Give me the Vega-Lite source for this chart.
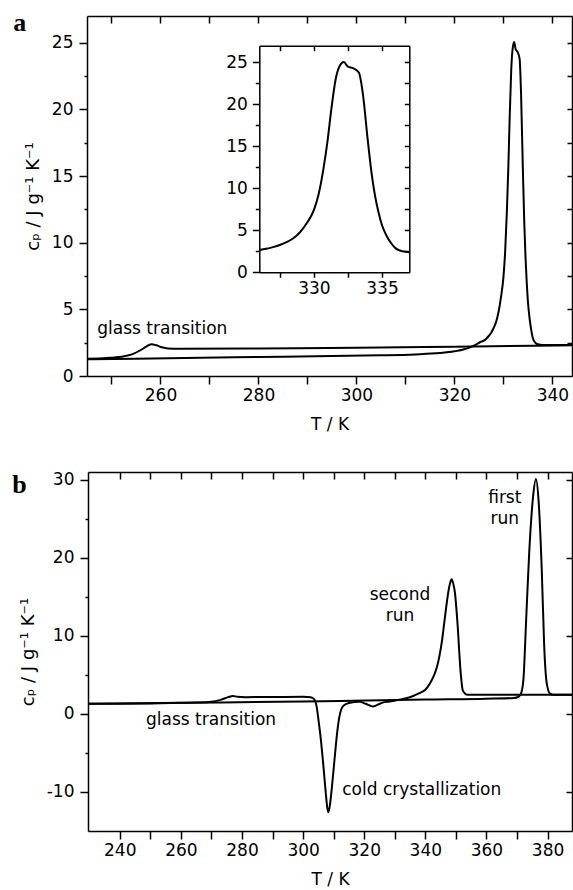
{
  "$schema": "https://vega.github.io/schema/vega-lite/v6.json",
  "width": 486,
  "height": 874,
  "autosize": {"type": "none"},
  "padding": {"left": 87, "top": 16, "right": 0, "bottom": 0},
  "datasets": {
    "curves": [
      {"p":"a","s":"m","T":245,"cp":1.25},{"p":"a","s":"m","T":255,"cp":1.3},{"p":"a","s":"m","T":265,"cp":1.35},{"p":"a","s":"m","T":275,"cp":1.4},{"p":"a","s":"m","T":285,"cp":1.45},{"p":"a","s":"m","T":295,"cp":1.5},{"p":"a","s":"m","T":305,"cp":1.55},{"p":"a","s":"m","T":312,"cp":1.62},{"p":"a","s":"m","T":317,"cp":1.72},{"p":"a","s":"m","T":320,"cp":1.85},{"p":"a","s":"m","T":322,"cp":2.0},{"p":"a","s":"m","T":323.5,"cp":2.2},{"p":"a","s":"m","T":324.5,"cp":2.38},{"p":"a","s":"m","T":325.3,"cp":2.55},{"p":"a","s":"m","T":326,"cp":2.65},{"p":"a","s":"m","T":326.5,"cp":2.8},{"p":"a","s":"m","T":327,"cp":3.0},{"p":"a","s":"m","T":327.5,"cp":3.25},{"p":"a","s":"m","T":328,"cp":3.6},{"p":"a","s":"m","T":328.5,"cp":4.05},{"p":"a","s":"m","T":329,"cp":4.8},{"p":"a","s":"m","T":329.5,"cp":5.9},{"p":"a","s":"m","T":330,"cp":7.4},{"p":"a","s":"m","T":330.35,"cp":9.3},{"p":"a","s":"m","T":330.7,"cp":12.3},{"p":"a","s":"m","T":331,"cp":15.6},{"p":"a","s":"m","T":331.25,"cp":19.0},{"p":"a","s":"m","T":331.6,"cp":23.0},{"p":"a","s":"m","T":331.9,"cp":24.6},{"p":"a","s":"m","T":332.2,"cp":25.05},{"p":"a","s":"m","T":332.5,"cp":24.5},{"p":"a","s":"m","T":332.9,"cp":24.3},{"p":"a","s":"m","T":333.3,"cp":23.8},{"p":"a","s":"m","T":333.6,"cp":21.2},{"p":"a","s":"m","T":333.95,"cp":15.8},{"p":"a","s":"m","T":334.25,"cp":11.6},{"p":"a","s":"m","T":334.5,"cp":9.0},{"p":"a","s":"m","T":334.75,"cp":7.1},{"p":"a","s":"m","T":335,"cp":5.6},{"p":"a","s":"m","T":335.35,"cp":4.3},{"p":"a","s":"m","T":335.7,"cp":3.4},{"p":"a","s":"m","T":336,"cp":2.85},{"p":"a","s":"m","T":336.5,"cp":2.5},{"p":"a","s":"m","T":337,"cp":2.38},{"p":"a","s":"m","T":338,"cp":2.32},{"p":"a","s":"m","T":344,"cp":2.33},
      {"p":"a","s":"g","T":245,"cp":1.3},{"p":"a","s":"g","T":249,"cp":1.35},{"p":"a","s":"g","T":252,"cp":1.45},{"p":"a","s":"g","T":254,"cp":1.6},{"p":"a","s":"g","T":256,"cp":1.95},{"p":"a","s":"g","T":257.3,"cp":2.25},{"p":"a","s":"g","T":258.2,"cp":2.38},{"p":"a","s":"g","T":259.2,"cp":2.3},{"p":"a","s":"g","T":260.3,"cp":2.15},{"p":"a","s":"g","T":261.5,"cp":2.07},{"p":"a","s":"g","T":264,"cp":2.05},{"p":"a","s":"g","T":280,"cp":2.07},{"p":"a","s":"g","T":300,"cp":2.12},{"p":"a","s":"g","T":320,"cp":2.2},{"p":"a","s":"g","T":344,"cp":2.3},
      {"p":"b","s":"f","T":229.6,"cp":1.3},{"p":"b","s":"f","T":260,"cp":1.42},{"p":"b","s":"f","T":300,"cp":1.6},{"p":"b","s":"f","T":320,"cp":1.72},{"p":"b","s":"f","T":340,"cp":1.85},{"p":"b","s":"f","T":360,"cp":1.95},{"p":"b","s":"f","T":369,"cp":2.05},{"p":"b","s":"f","T":370.5,"cp":2.2},{"p":"b","s":"f","T":371.3,"cp":2.6},{"p":"b","s":"f","T":372.1,"cp":4.4},{"p":"b","s":"f","T":373,"cp":12.1},{"p":"b","s":"f","T":374,"cp":20.7},{"p":"b","s":"f","T":375.3,"cp":28.0},{"p":"b","s":"f","T":376.2,"cp":30.1},{"p":"b","s":"f","T":377.1,"cp":27.1},{"p":"b","s":"f","T":378.1,"cp":18.5},{"p":"b","s":"f","T":378.9,"cp":8.7},{"p":"b","s":"f","T":379.7,"cp":4.0},{"p":"b","s":"f","T":380.8,"cp":2.6},{"p":"b","s":"f","T":382,"cp":2.45},{"p":"b","s":"f","T":388,"cp":2.45},
      {"p":"b","s":"s","T":229.6,"cp":1.3},{"p":"b","s":"s","T":250,"cp":1.35},{"p":"b","s":"s","T":265,"cp":1.45},{"p":"b","s":"s","T":270,"cp":1.55},{"p":"b","s":"s","T":273,"cp":1.8},{"p":"b","s":"s","T":275.5,"cp":2.15},{"p":"b","s":"s","T":277,"cp":2.3},{"p":"b","s":"s","T":278.5,"cp":2.2},{"p":"b","s":"s","T":281,"cp":2.15},{"p":"b","s":"s","T":290,"cp":2.17},{"p":"b","s":"s","T":300,"cp":2.2},{"p":"b","s":"s","T":302.5,"cp":2.15},{"p":"b","s":"s","T":303.6,"cp":1.9},{"p":"b","s":"s","T":304.4,"cp":1.0},{"p":"b","s":"s","T":305.1,"cp":-1.0},{"p":"b","s":"s","T":305.9,"cp":-3.6},{"p":"b","s":"s","T":306.6,"cp":-6.5},{"p":"b","s":"s","T":307.3,"cp":-9.6},{"p":"b","s":"s","T":307.9,"cp":-12.0},{"p":"b","s":"s","T":308.3,"cp":-12.6},{"p":"b","s":"s","T":308.8,"cp":-11.6},{"p":"b","s":"s","T":309.4,"cp":-9.5},{"p":"b","s":"s","T":310.0,"cp":-7.0},{"p":"b","s":"s","T":310.6,"cp":-4.5},{"p":"b","s":"s","T":311.2,"cp":-2.2},{"p":"b","s":"s","T":311.8,"cp":-0.5},{"p":"b","s":"s","T":312.5,"cp":0.6},{"p":"b","s":"s","T":313.5,"cp":1.15},{"p":"b","s":"s","T":315,"cp":1.4},{"p":"b","s":"s","T":318.5,"cp":1.55},{"p":"b","s":"s","T":320.5,"cp":1.3},{"p":"b","s":"s","T":322.8,"cp":0.95},{"p":"b","s":"s","T":324.5,"cp":1.2},{"p":"b","s":"s","T":326,"cp":1.45},{"p":"b","s":"s","T":328.3,"cp":1.6},{"p":"b","s":"s","T":333.7,"cp":2.0},{"p":"b","s":"s","T":336,"cp":2.3},{"p":"b","s":"s","T":338.1,"cp":2.66},{"p":"b","s":"s","T":340,"cp":3.1},{"p":"b","s":"s","T":341.5,"cp":3.9},{"p":"b","s":"s","T":342.8,"cp":4.9},{"p":"b","s":"s","T":343.8,"cp":6.0},{"p":"b","s":"s","T":344.7,"cp":7.6},{"p":"b","s":"s","T":345.5,"cp":9.5},{"p":"b","s":"s","T":346.2,"cp":11.7},{"p":"b","s":"s","T":346.9,"cp":13.9},{"p":"b","s":"s","T":347.6,"cp":15.8},{"p":"b","s":"s","T":348.2,"cp":16.9},{"p":"b","s":"s","T":348.6,"cp":17.25},{"p":"b","s":"s","T":349.2,"cp":16.6},{"p":"b","s":"s","T":349.7,"cp":15.5},{"p":"b","s":"s","T":350.2,"cp":13.3},{"p":"b","s":"s","T":350.6,"cp":11.2},{"p":"b","s":"s","T":351,"cp":8.6},{"p":"b","s":"s","T":351.4,"cp":6.1},{"p":"b","s":"s","T":351.8,"cp":4.3},{"p":"b","s":"s","T":352.2,"cp":3.1},{"p":"b","s":"s","T":353,"cp":2.6},{"p":"b","s":"s","T":353.9,"cp":2.45},{"p":"b","s":"s","T":370,"cp":2.45},{"p":"b","s":"s","T":388,"cp":2.45}
    ],
    "notes": [
      {"p":"a","al":"left","text":"glass transition","T":247.1,"cp":3.5},
      {"p":"b","al":"left","text":"glass transition","T":248.6,"cp":-0.8},
      {"p":"b","al":"left","text":"cold crystallization","T":312.8,"cp":-9.8},
      {"p":"b","al":"center","text":"second","T":331.7,"cp":15.3},
      {"p":"b","al":"center","text":"run","T":331.7,"cp":12.5},
      {"p":"b","al":"center","text":"first","T":366,"cp":27.7},
      {"p":"b","al":"center","text":"run","T":366,"cp":25.0}
    ]
  },
  "layer": [
    {
      "data": {"name": "curves"},
      "transform": [{"filter": "datum.p === 'a'"}],
      "mark": {"type": "line", "color": "#000", "strokeWidth": 2, "interpolate": "monotone"},
      "encoding": {
        "x": {"field": "T", "type": "quantitative", "scale": {"domain": [245, 344], "range": [0, 485], "nice": false, "zero": false},
          "axis": {"orient": "bottom", "offset": -514, "values": [250,260,270,280,290,300,310,320,330,340], "labelExpr": "datum.value % 20 === 0 ? toString(datum.value) : ''", "tickSize": 8, "title": "T / K", "titlePadding": 13}},
        "y": {"field": "cp", "type": "quantitative", "scale": {"domain": [0, 27], "range": [360, 0], "nice": false, "zero": false},
          "axis": {"orient": "left", "offset": 0, "values": [0,2.5,5,7.5,10,12.5,15,17.5,20,22.5,25], "labelExpr": "datum.value % 5 === 0 ? toString(datum.value) : ''", "tickSize": {"condition": {"test": "datum.value % 5 === 0", "value": 8}, "value": 3}, "labelPadding": 6, "title": "cₚ / J g⁻¹ K⁻¹", "titleFontSize": 18, "titlePadding": 9}},
        "detail": {"field": "s"}
      }
    },
    {
      "data": {"name": "curves"},
      "transform": [{"filter": "datum.p === 'a'"}],
      "mark": {"type": "point", "opacity": 0},
      "encoding": {
        "x": {"field": "T", "type": "quantitative", "scale": {"domain": [245, 344], "range": [0, 485], "nice": false, "zero": false},
          "axis": {"orient": "top", "offset": 0, "values": [250,260,270,280,290,300,310,320,330,340], "labels": false, "tickSize": -7,
            "title": "a", "titleFont": "Liberation Serif", "titleFontWeight": "bold", "titleFontSize": 26, "titleX": -74.3, "titleY": 14, "titleAlign": "left", "titleBaseline": "alphabetic", "titleAngle": 0}},
        "y": {"field": "cp", "type": "quantitative", "scale": {"domain": [0, 27], "range": [360, 0], "nice": false, "zero": false},
          "axis": {"orient": "right", "offset": -1, "values": [2.5,5,7.5,10,12.5,15,17.5,20,22.5,25], "labels": false, "tickSize": -5, "title": null}}
      }
    },
    {
      "data": {"name": "curves"},
      "transform": [{"filter": "datum.p === 'a' && datum.s === 'm' && datum.T >= 326 && datum.T <= 337"}],
      "mark": {"type": "line", "color": "#000", "strokeWidth": 2, "interpolate": "monotone"},
      "encoding": {
        "x": {"field": "T", "type": "quantitative", "scale": {"domain": [326, 337], "range": [172.3, 322.3], "nice": false, "zero": false},
          "axis": {"orient": "bottom", "offset": -617.7, "values": [327.5,330,332.5,335], "labelExpr": "datum.value % 5 === 0 ? toString(datum.value) : ''", "tickSize": 5, "title": null}},
        "y": {"field": "cp", "type": "quantitative", "scale": {"domain": [0, 27], "range": [256.3, 29.7], "nice": false, "zero": false},
          "axis": {"orient": "left", "offset": -172.3, "values": [0,2.5,5,7.5,10,12.5,15,17.5,20,22.5,25], "labelExpr": "datum.value % 5 === 0 ? toString(datum.value) : ''", "tickSize": {"condition": {"test": "datum.value % 5 === 0", "value": 7}, "value": 4}, "labelPadding": 5, "title": null}}
      }
    },
    {
      "data": {"name": "curves"},
      "transform": [{"filter": "datum.p === 'a' && datum.s === 'm' && datum.T >= 326 && datum.T <= 337"}],
      "mark": {"type": "point", "opacity": 0},
      "encoding": {
        "x": {"field": "T", "type": "quantitative", "scale": {"domain": [326, 337], "range": [172.3, 322.3], "nice": false, "zero": false},
          "axis": {"orient": "top", "offset": -29.7, "values": [327.5,330,332.5,335], "labels": false, "tickSize": -5, "title": null}},
        "y": {"field": "cp", "type": "quantitative", "scale": {"domain": [0, 27], "range": [256.3, 29.7], "nice": false, "zero": false},
          "axis": {"orient": "right", "offset": -163.7, "values": [2.5,5,7.5,10,12.5,15,17.5,20,22.5,25], "labels": false, "tickSize": -5, "title": null}}
      }
    },
    {
      "data": {"name": "notes"},
      "transform": [{"filter": "datum.p === 'a'"}],
      "mark": {"type": "text", "font": "DejaVu Sans", "fontSize": 17, "align": "left", "baseline": "middle", "color": "#000"},
      "encoding": {
        "x": {"field": "T", "type": "quantitative", "scale": {"domain": [245, 344], "range": [0, 485], "nice": false, "zero": false}, "axis": null},
        "y": {"field": "cp", "type": "quantitative", "scale": {"domain": [0, 27], "range": [360, 0], "nice": false, "zero": false}, "axis": null},
        "text": {"field": "text"}
      }
    },
    {
      "data": {"name": "curves"},
      "transform": [{"filter": "datum.p === 'b'"}],
      "mark": {"type": "line", "color": "#000", "strokeWidth": 2, "interpolate": "monotone"},
      "encoding": {
        "x": {"field": "T", "type": "quantitative", "scale": {"domain": [229.6, 388], "range": [1, 485], "nice": false, "zero": false},
          "axis": {"orient": "bottom", "offset": -59, "values": [240,250,260,270,280,290,300,310,320,330,340,350,360,370,380], "labelExpr": "datum.value % 20 === 0 ? toString(datum.value) : ''", "tickSize": 8, "title": "T / K", "titlePadding": 13}},
        "y": {"field": "cp", "type": "quantitative", "scale": {"domain": [-15, 31], "range": [815, 456], "nice": false, "zero": false},
          "axis": {"orient": "left", "offset": -1, "values": [-10,-5,0,5,10,15,20,25,30], "labelExpr": "datum.value % 10 === 0 ? toString(datum.value) : ''", "tickSize": {"condition": {"test": "datum.value % 10 === 0", "value": 8}, "value": 3}, "labelPadding": 6, "title": "cₚ / J g⁻¹ K⁻¹", "titleFontSize": 18, "titlePadding": 9}},
        "detail": {"field": "s"}
      }
    },
    {
      "data": {"name": "curves"},
      "transform": [{"filter": "datum.p === 'b'"}],
      "mark": {"type": "point", "opacity": 0},
      "encoding": {
        "x": {"field": "T", "type": "quantitative", "scale": {"domain": [229.6, 388], "range": [1, 485], "nice": false, "zero": false},
          "axis": {"orient": "top", "offset": -456, "values": [240,250,260,270,280,290,300,310,320,330,340,350,360,370,380], "labels": false, "tickSize": -7,
            "title": "b", "titleFont": "Liberation Serif", "titleFontWeight": "bold", "titleFontSize": 26, "titleX": -75.3, "titleY": 20, "titleAlign": "left", "titleBaseline": "alphabetic", "titleAngle": 0}},
        "y": {"field": "cp", "type": "quantitative", "scale": {"domain": [-15, 31], "range": [815, 456], "nice": false, "zero": false},
          "axis": {"orient": "right", "offset": -1, "values": [-10,0,10,20,30], "labels": false, "tickSize": -6, "title": null}}
      }
    },
    {
      "data": {"name": "notes"},
      "transform": [{"filter": "datum.p === 'b' && datum.al === 'left'"}],
      "mark": {"type": "text", "font": "DejaVu Sans", "fontSize": 17, "align": "left", "baseline": "middle", "color": "#000"},
      "encoding": {
        "x": {"field": "T", "type": "quantitative", "scale": {"domain": [229.6, 388], "range": [1, 485], "nice": false, "zero": false}, "axis": null},
        "y": {"field": "cp", "type": "quantitative", "scale": {"domain": [-15, 31], "range": [815, 456], "nice": false, "zero": false}, "axis": null},
        "text": {"field": "text"}
      }
    },
    {
      "data": {"name": "notes"},
      "transform": [{"filter": "datum.p === 'b' && datum.al === 'center'"}],
      "mark": {"type": "text", "font": "DejaVu Sans", "fontSize": 17, "align": "center", "baseline": "middle", "color": "#000"},
      "encoding": {
        "x": {"field": "T", "type": "quantitative", "scale": {"domain": [229.6, 388], "range": [1, 485], "nice": false, "zero": false}, "axis": null},
        "y": {"field": "cp", "type": "quantitative", "scale": {"domain": [-15, 31], "range": [815, 456], "nice": false, "zero": false}, "axis": null},
        "text": {"field": "text"}
      }
    }
  ],
  "resolve": {"scale": {"x": "independent", "y": "independent"}, "axis": {"x": "independent", "y": "independent"}},
  "config": {
    "view": {"stroke": null},
    "axis": {"grid": false, "domainColor": "#000", "domainWidth": 1.5, "tickColor": "#000", "tickWidth": 1.5,
      "labelFont": "DejaVu Sans", "labelFontSize": 17, "labelColor": "#000", "labelPadding": 3, "labelOverlap": false, "labelFlush": false,
      "titleFont": "DejaVu Sans", "titleFontSize": 17, "titleFontWeight": "normal", "titleColor": "#000"}
  }
}
